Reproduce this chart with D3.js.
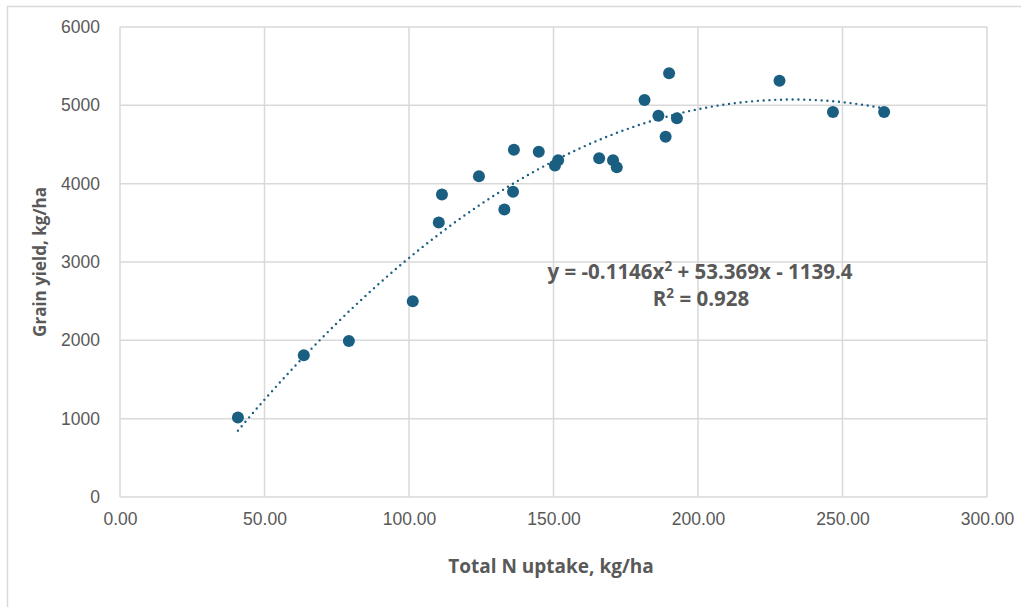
<!DOCTYPE html>
<html>
<head>
<meta charset="utf-8">
<script src="https://cdn.jsdelivr.net/npm/d3@7"></script>
<style>
    body { margin: 0; background: #fff; }
    svg { display: block; }
</style>
</head>
<body>
<svg></svg>
<script>
// Total N uptake (kg/ha) vs grain yield (kg/ha)
const nUptake = [40.8, 63.6, 79.2, 101.3, 110.3, 111.4, 124.2, 133.0, 136.3, 136.0,
    144.9, 150.5, 151.6, 165.8, 170.6, 171.9, 181.5, 186.3, 188.8, 190.0,
    192.7, 228.2, 246.7, 264.4];
const grainYield = [1015, 1810, 1990, 2500, 3505, 3862, 4094, 3671, 4433, 3896,
    4407, 4233, 4300, 4323, 4300, 4208, 5068, 4867, 4599, 5409,
    4834, 5314, 4914, 4914];

const xTicks = [0, 50, 100, 150, 200, 250, 300];
const yTicks = [0, 1000, 2000, 3000, 4000, 5000, 6000];

// polynomial trendline as printed on the chart: a x^2 + b x + c
const trendCoef = [-0.1146, 53.369, -1139.4];
const trendLabel = ['y = -0.1146x', '2', ' + 53.369x - 1139.4'];
const r2Label = ['R', '2', ' = 0.928'];

const width = 1021;
const height = 607;
const margin = { top: 27, right: 34, bottom: 110, left: 120 };

const textGrey = '#595959';
const gridGrey = '#d9d9d9';
const dotBlue = '#1a5f82';

const svg = d3.select('svg')
    .attr('width', width)
    .attr('height', height);

// chart frame (only left / top edges fall inside the picture)
svg.append('rect')
    .attr('x', 7.5)
    .attr('y', 6.5)
    .attr('width', width + 20)
    .attr('height', height + 20)
    .style('fill', 'none')
    .style('stroke', '#d9d9d9')
    .style('stroke-width', 1.5);

const x = d3.scaleLinear()
    .domain([0, 300])
    .range([margin.left, width - margin.right]);

const y = d3.scaleLinear()
    .domain([0, 6000])
    .range([height - margin.bottom, margin.top]);

const grid = svg.append('g').attr('class', 'grid');

grid.selectAll('.hgrid')
    .data(yTicks)
    .enter()
    .append('line')
    .attr('x1', x(0))
    .attr('x2', x(300))
    .attr('y1', d => y(d))
    .attr('y2', d => y(d))
    .style('stroke', gridGrey)
    .style('stroke-width', 1.5);

grid.selectAll('.vgrid')
    .data(xTicks)
    .enter()
    .append('line')
    .attr('x1', d => x(d))
    .attr('x2', d => x(d))
    .attr('y1', y(0))
    .attr('y2', y(6000))
    .style('stroke', gridGrey)
    .style('stroke-width', 1.5);

const xAxis = svg.append('g')
    .attr('transform', `translate(0,${y(0)})`)
    .call(d3.axisBottom(x).tickValues(xTicks).tickFormat(d3.format('.2f')).tickSize(0).tickPadding(16));

const yAxis = svg.append('g')
    .attr('transform', `translate(${x(0)},0)`)
    .call(d3.axisLeft(y).tickValues(yTicks).tickFormat(d3.format('d')).tickSize(0).tickPadding(20));

[xAxis, yAxis].forEach(axis => {
    axis.select('.domain').remove();
    axis.selectAll('text')
        .style('font-family', '"Liberation Sans", Arial, sans-serif')
        .style('font-size', '17.5px')
        .style('fill', textGrey);
});

// trendline, dotted
const trendY = t => trendCoef[0] * t * t + trendCoef[1] * t + trendCoef[2];
const xMin = d3.min(nUptake);
const xMax = d3.max(nUptake);
const trendPts = d3.range(0, 201).map(i => {
    const t = xMin + (xMax - xMin) * i / 200;
    return [t, trendY(t)];
});

svg.append('path')
    .datum(trendPts)
    .attr('d', d3.line().x(d => x(d[0])).y(d => y(d[1])))
    .style('fill', 'none')
    .style('stroke', dotBlue)
    .style('stroke-width', 2.4)
    .style('stroke-linecap', 'round')
    .style('stroke-dasharray', '0 5.8');

// scatter points
svg.append('g')
    .selectAll('circle')
    .data(nUptake.map((d, i) => [d, grainYield[i]]))
    .enter()
    .append('circle')
    .attr('cx', d => x(d[0]))
    .attr('cy', d => y(d[1]))
    .attr('r', 6)
    .style('fill', dotBlue);

// trendline label
const labelFont = '"Open Sans", "Liberation Sans", Arial, sans-serif';

function superText(parts, cx, cy) {
    const t = svg.append('text')
        .attr('x', cx)
        .attr('y', cy)
        .attr('text-anchor', 'middle')
        .style('font-family', labelFont)
        .style('font-weight', 'bold')
        .style('font-size', '20.5px')
        .style('fill', textGrey);
    t.append('tspan').text(parts[0]);
    t.append('tspan').text(parts[1]).attr('dy', -8).style('font-size', '13.5px');
    t.append('tspan').text(parts[2]).attr('dy', 8);
}

superText(trendLabel, 700, 279);
superText(r2Label, 701, 306);

// axis titles
svg.append('text')
    .text('Total N uptake, kg/ha')
    .attr('x', 551)
    .attr('y', 573)
    .attr('text-anchor', 'middle')
    .style('font-family', labelFont)
    .style('font-weight', 'bold')
    .style('font-size', '19px')
    .style('fill', textGrey);

svg.append('text')
    .text('Grain yield, kg/ha')
    .attr('transform', 'translate(46,262) rotate(-90)')
    .attr('text-anchor', 'middle')
    .style('font-family', labelFont)
    .style('font-weight', 'bold')
    .style('font-size', '17px')
    .style('fill', textGrey);
</script>
</body>
</html>
